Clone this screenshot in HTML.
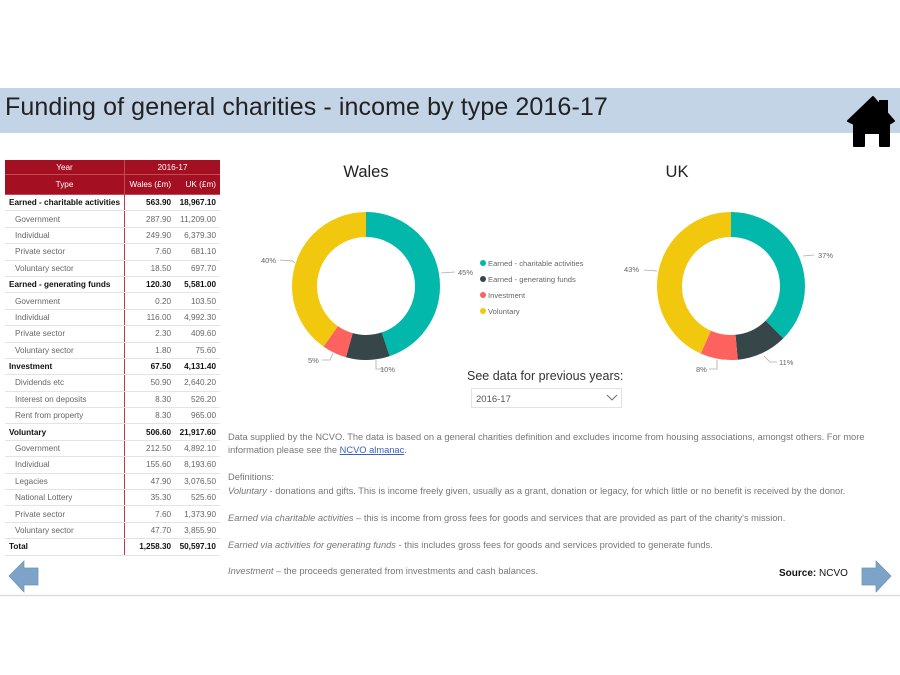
<!DOCTYPE html>
<html><head><meta charset="utf-8"><style>
body{margin:0;width:900px;height:675px;background:#fff;font-family:"Segoe UI","Liberation Sans",sans-serif;position:relative;overflow:hidden}
.abs{position:absolute}
#hdr{left:0;top:88px;width:900px;height:45px;background:#c2d4e6}
#title{left:5px;top:93px;font-size:25px;color:#222;white-space:nowrap;letter-spacing:0.1px}
table{border-collapse:collapse;font-size:8.2px;color:#666}
td{height:15.4px;padding:0 4px;border-bottom:1px solid #e4e4e4;white-space:nowrap}
td.n{text-align:right}
tr.b td{font-weight:bold;color:#111}
td.i{padding-left:10px}
td.c1{border-right:1px solid #c0394a}
.th td{background:#a50f22;color:#fff;text-align:center;border-bottom:1px solid #c24a58;height:14px}
.txt{font-size:9.3px;color:#777;white-space:nowrap}
</style></head><body>
<div class="abs" id="hdr"></div>
<div class="abs" id="title">Funding of general charities - income by type 2016-17</div>
<svg class="abs" style="left:845px;top:95px" width="50" height="53" viewBox="845 95 50 53">
<rect x="879" y="100" width="9" height="14" fill="#000"/>
<path d="M873 97 L894 121 L889 124 L889 146 L880 146 L880 133 L864 133 L864 146 L854 146 L854 124 L848 121 Z" fill="#000" stroke="#000" stroke-width="2" stroke-linejoin="round"/>
</svg>
<table class="abs" style="left:5px;top:160px;width:215px">
<tr class="th"><td style="text-align:center;width:110px;border-right:1px solid #c24a58">Year</td><td colspan="2">2016-17</td></tr>
<tr class="th"><td style="height:19px;border-right:1px solid #c24a58">Type</td><td class="n" style="text-align:right">Wales (£m)</td><td class="n" style="text-align:right">UK (£m)</td></tr>
<tr class="b"><td class="c1">Earned - charitable activities</td><td class="n">563.90</td><td class="n">18,967.10</td></tr>
<tr><td class="c1 i">Government</td><td class="n">287.90</td><td class="n">11,209.00</td></tr>
<tr><td class="c1 i">Individual</td><td class="n">249.90</td><td class="n">6,379.30</td></tr>
<tr><td class="c1 i">Private sector</td><td class="n">7.60</td><td class="n">681.10</td></tr>
<tr><td class="c1 i">Voluntary sector</td><td class="n">18.50</td><td class="n">697.70</td></tr>
<tr class="b"><td class="c1">Earned - generating funds</td><td class="n">120.30</td><td class="n">5,581.00</td></tr>
<tr><td class="c1 i">Government</td><td class="n">0.20</td><td class="n">103.50</td></tr>
<tr><td class="c1 i">Individual</td><td class="n">116.00</td><td class="n">4,992.30</td></tr>
<tr><td class="c1 i">Private sector</td><td class="n">2.30</td><td class="n">409.60</td></tr>
<tr><td class="c1 i">Voluntary sector</td><td class="n">1.80</td><td class="n">75.60</td></tr>
<tr class="b"><td class="c1">Investment</td><td class="n">67.50</td><td class="n">4,131.40</td></tr>
<tr><td class="c1 i">Dividends etc</td><td class="n">50.90</td><td class="n">2,640.20</td></tr>
<tr><td class="c1 i">Interest on deposits</td><td class="n">8.30</td><td class="n">526.20</td></tr>
<tr><td class="c1 i">Rent from property</td><td class="n">8.30</td><td class="n">965.00</td></tr>
<tr class="b"><td class="c1">Voluntary</td><td class="n">506.60</td><td class="n">21,917.60</td></tr>
<tr><td class="c1 i">Government</td><td class="n">212.50</td><td class="n">4,892.10</td></tr>
<tr><td class="c1 i">Individual</td><td class="n">155.60</td><td class="n">8,193.60</td></tr>
<tr><td class="c1 i">Legacies</td><td class="n">47.90</td><td class="n">3,076.50</td></tr>
<tr><td class="c1 i">National Lottery</td><td class="n">35.30</td><td class="n">525.60</td></tr>
<tr><td class="c1 i">Private sector</td><td class="n">7.60</td><td class="n">1,373.90</td></tr>
<tr><td class="c1 i">Voluntary sector</td><td class="n">47.70</td><td class="n">3,855.90</td></tr>
<tr class="b"><td class="c1">Total</td><td class="n">1,258.30</td><td class="n">50,597.10</td></tr>
</table>
<svg class="abs" style="left:0;top:0" width="900" height="675">
<g fill="none" stroke-width="25">
<g transform="rotate(-90 366 286)">
<circle cx="366" cy="286" r="61.5" stroke="#01b8aa" stroke-dasharray="173.1 400" stroke-dashoffset="0"/>
<circle cx="366" cy="286" r="61.5" stroke="#374649" stroke-dasharray="36.9 400" stroke-dashoffset="-173.1"/>
<circle cx="366" cy="286" r="61.5" stroke="#fd625e" stroke-dasharray="20.7 400" stroke-dashoffset="-210"/>
<circle cx="366" cy="286" r="61.5" stroke="#f2c80f" stroke-dasharray="155.7 400" stroke-dashoffset="-230.7"/>
</g>
<g transform="rotate(-90 731 286)">
<circle cx="731" cy="286" r="61.5" stroke="#01b8aa" stroke-dasharray="144.9 400" stroke-dashoffset="0"/>
<circle cx="731" cy="286" r="61.5" stroke="#374649" stroke-dasharray="42.6 400" stroke-dashoffset="-144.9"/>
<circle cx="731" cy="286" r="61.5" stroke="#fd625e" stroke-dasharray="31.6 400" stroke-dashoffset="-187.5"/>
<circle cx="731" cy="286" r="61.5" stroke="#f2c80f" stroke-dasharray="167.4 400" stroke-dashoffset="-219.1"/>
</g>
</g>
<g stroke="#aaa" fill="none" stroke-width="0.8">
<path d="M441 273 L455 272"/><path d="M293 261 L280 260 M293 261 L295 263"/>
<path d="M333 353 L330 360 L322 360"/><path d="M376 360 L376 369 L384 369"/>
<path d="M803 256 L814 255"/><path d="M657 271 L644 270"/>
<path d="M717 360 L717 369 L709 369"/><path d="M764 356 L770 362 L777 362"/>
</g>
<g font-size="7.5" fill="#666" font-family="Segoe UI,Liberation Sans,sans-serif">
<text x="458" y="275">45%</text><text x="261" y="263">40%</text>
<text x="308" y="363">5%</text><text x="380" y="372">10%</text>
<text x="818" y="258">37%</text><text x="624" y="272">43%</text>
<text x="696" y="372">8%</text><text x="779" y="365">11%</text>
</g>
<g font-size="7.6" fill="#666" font-family="Segoe UI,Liberation Sans,sans-serif">
<circle cx="483" cy="263" r="3" fill="#01b8aa"/><text x="488" y="266">Earned - charitable activities</text>
<circle cx="483" cy="279" r="3" fill="#374649"/><text x="488" y="282">Earned - generating funds</text>
<circle cx="483" cy="295" r="3" fill="#fd625e"/><text x="488" y="298">Investment</text>
<circle cx="483" cy="311" r="3" fill="#f2c80f"/><text x="488" y="314">Voluntary</text>
</g>
<g font-size="16.5" fill="#222" font-family="Segoe UI,Liberation Sans,sans-serif" text-anchor="middle">
<text x="366" y="177">Wales</text><text x="677" y="177">UK</text>
</g>
<text x="467" y="380" font-size="12.5" fill="#333" font-family="Segoe UI,Liberation Sans,sans-serif">See data for previous years:</text>
<rect x="471.5" y="388.5" width="150" height="19" fill="#fff" stroke="#e2e2e2"/>
<text x="476" y="402" font-size="9.5" fill="#555" font-family="Segoe UI,Liberation Sans,sans-serif">2016-17</text>
<path d="M607 395 L612 400 L617 395" stroke="#666" fill="none" stroke-width="0.9"/>
<path d="M9 576 L24 561 L24 568 L38 568 L38 585 L24 585 L24 592 Z" fill="#7ea3c9" stroke="#6b90b8" stroke-width="0.7"/>
<path d="M891 576 L876 561 L876 568 L862 568 L862 585 L876 585 L876 592 Z" fill="#7ea3c9" stroke="#6b90b8" stroke-width="0.7"/>
<line x1="0" y1="595.5" x2="900" y2="595.5" stroke="#ddd" stroke-width="1.5"/>
</svg>
<div class="abs txt" style="left:228px;top:432px">Data supplied by the NCVO. The data is based on a general charities definition and excludes income from housing associations, amongst others. For more</div>
<div class="abs txt" style="left:228px;top:445px">information please see the <span style="color:#3b5fc0;text-decoration:underline">NCVO almanac</span>.</div>
<div class="abs txt" style="left:228px;top:472px">Definitions:</div>
<div class="abs txt" style="left:228px;top:486px"><i>Voluntary</i> - donations and gifts. This is income freely given, usually as a grant, donation or legacy, for which little or no benefit is received by the donor.</div>
<div class="abs txt" style="left:228px;top:513px"><i>Earned via charitable activities</i> – this is income from gross fees for goods and services that are provided as part of the charity's mission.</div>
<div class="abs txt" style="left:228px;top:540px"><i>Earned via activities for generating funds</i> - this includes gross fees for goods and services provided to generate funds.</div>
<div class="abs txt" style="left:228px;top:566px"><i>Investment</i> – the proceeds generated from investments and cash balances.</div>
<div class="abs" style="left:779px;top:568px;font-size:10px;color:#111;white-space:nowrap"><b>Source:</b> NCVO</div>
</body></html>
